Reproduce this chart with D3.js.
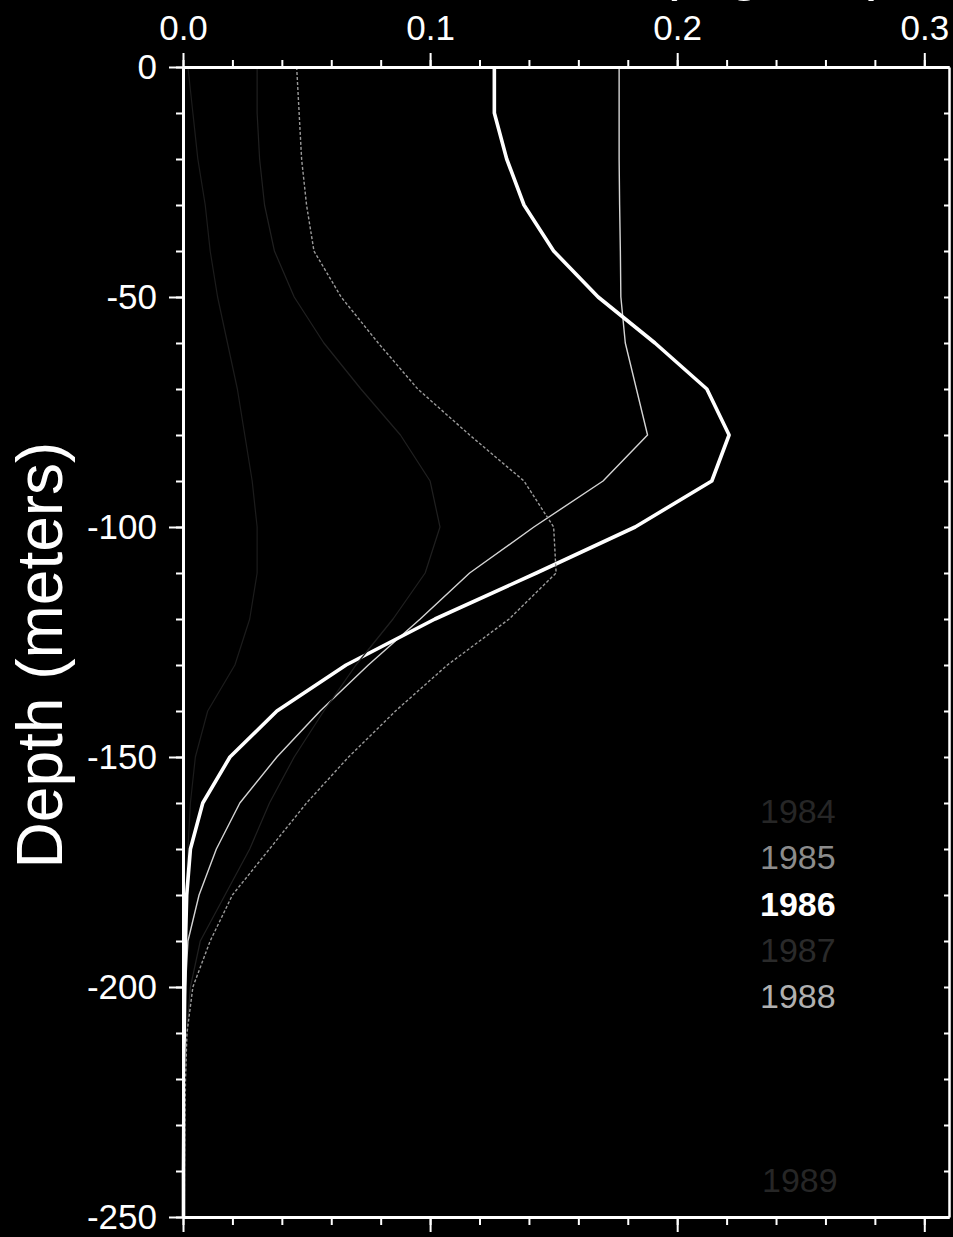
<!DOCTYPE html>
<html>
<head>
<meta charset="utf-8">
<script src="https://cdn.jsdelivr.net/npm/d3@7"></script>
<style>
  html, body { margin: 0; padding: 0; background: #000; }
  svg { display: block; }
  text { font-family: "Liberation Sans", Arial, Helvetica, sans-serif; }
</style>
</head>
<body>
<svg id="chart" width="953" height="1237"></svg>
<script>
// Sample depths (m), every 10 m from the surface down to 250 m
const depths = [0, -10, -20, -30, -40, -50, -60, -70, -80, -90, -100, -110, -120,
                -130, -140, -150, -160, -170, -180, -190, -200, -210, -220, -230, -240, -250];

// Mean chlorophyll profiles by year
const chl1984 = [0.002, 0.004, 0.006, 0.009, 0.011, 0.014, 0.018, 0.022, 0.025, 0.028, 0.030, 0.030, 0.027,
                 0.021, 0.010, 0.005, 0.003, 0.002, 0.001, 0.0008, 0.0006, 0.0005, 0.0004, 0.0003, 0.0003, 0.0002];
const chl1985 = [0.1765, 0.1765, 0.1765, 0.1767, 0.177, 0.1772, 0.179, 0.1835, 0.188, 0.170, 0.142, 0.116, 0.096,
                 0.075, 0.0555, 0.038, 0.023, 0.0135, 0.0065, 0.002, 0.001, 0.0007, 0.0005, 0.0004, 0.0003, 0.0003];
const chl1986 = [0.126, 0.126, 0.131, 0.138, 0.150, 0.168, 0.191, 0.212, 0.221, 0.214, 0.183, 0.143, 0.102,
                 0.066, 0.038, 0.019, 0.008, 0.003, 0.0015, 0.001, 0.0007, 0.0005, 0.0004, 0.0003, 0.0002, 0.0002];
const chl1987 = [0.030, 0.030, 0.031, 0.033, 0.037, 0.045, 0.057, 0.072, 0.088, 0.100, 0.104, 0.098, 0.085,
                 0.070, 0.057, 0.045, 0.035, 0.027, 0.017, 0.007, 0.003, 0.0015, 0.001, 0.0008, 0.0006, 0.0005];
const chl1988 = [0.046, 0.047, 0.048, 0.050, 0.053, 0.064, 0.079, 0.095, 0.116, 0.138, 0.150, 0.151, 0.132,
                 0.107, 0.086, 0.067, 0.050, 0.035, 0.020, 0.011, 0.004, 0.0016, 0.001, 0.0008, 0.0006, 0.0005];

const years = ["1984", "1985", "1986", "1987", "1988"];
const seriesValues = [chl1984, chl1985, chl1986, chl1987, chl1988];
const extraLabel = "1989";

// Axis ticks
const xMajorTicks = [0, 0.1, 0.2, 0.3];
const xMinorTicks = d3.range(0, 0.311, 0.02);
const yMajorTicks = [0, -50, -100, -150, -200, -250];
const yMinorTicks = d3.range(0, -251, -10);

// Per-series drawing styles
const lineStyle = {
  "1984": { stroke: "#1c1c1c", width: 1.2, dash: null,  label: "#262626", weight: "normal" },
  "1985": { stroke: "#d4d4d4", width: 1.4, dash: null,  label: "#8c8c8c", weight: "normal" },
  "1986": { stroke: "#ffffff", width: 3.6, dash: null,  label: "#ffffff", weight: "bold" },
  "1987": { stroke: "#202020", width: 1.2, dash: null,  label: "#2a2a2a", weight: "normal" },
  "1988": { stroke: "#9a9a9a", width: 1.4, dash: "3,2", label: "#b0b0b0", weight: "normal" }
};

const svg = d3.select("#chart");
svg.append("rect").attr("width", 953).attr("height", 1237).attr("fill", "#000");

const x = d3.scaleLinear().domain([0, 0.31]).range([183, 949]);
const y = d3.scaleLinear().domain([0, -250]).range([67, 1217]);

const FONT = 35;

// ---- profile lines
const line = d3.line()
  .x(d => x(d.v))
  .y(d => y(d.depth));

const plot = svg.append("g");
years.forEach((yr, i) => {
  const pts = depths.map((dp, k) => ({ depth: dp, v: seriesValues[i][k] }));
  const st = lineStyle[yr];
  plot.append("path")
    .datum(pts)
    .attr("d", line)
    .attr("fill", "none")
    .attr("stroke", st.stroke)
    .attr("stroke-width", st.width)
    .attr("stroke-linejoin", "round")
    .attr("stroke-dasharray", st.dash);
});

// ---- axes
function styleAxis(g, tickWidth) {
  g.selectAll(".domain").attr("stroke", "#fff").attr("stroke-width", 3);
  g.selectAll(".tick line").attr("stroke", "#fff").attr("stroke-width", tickWidth);
  g.selectAll(".tick text")
    .attr("fill", "#fff")
    .attr("font-size", FONT)
    .style("font-family", '"Liberation Sans", Arial, Helvetica, sans-serif');
}

// top axis: minor then major with labels
svg.append("g").attr("transform", `translate(0,${y(0)})`)
  .call(d3.axisTop(x).tickValues(xMinorTicks).tickSize(7).tickSizeOuter(0).tickFormat(""))
  .call(g => styleAxis(g, 2));
svg.append("g").attr("transform", `translate(0,${y(0)})`)
  .call(d3.axisTop(x).tickValues(xMajorTicks).tickSize(14).tickPadding(13).tickSizeOuter(0).tickFormat(d3.format(".1f")))
  .call(g => styleAxis(g, 2));

// bottom axis
svg.append("g").attr("transform", `translate(0,${y(-250)})`)
  .call(d3.axisBottom(x).tickValues(xMinorTicks).tickSize(8).tickSizeOuter(0).tickFormat(""))
  .call(g => styleAxis(g, 2));
svg.append("g").attr("transform", `translate(0,${y(-250)})`)
  .call(d3.axisBottom(x).tickValues(xMajorTicks).tickSize(15).tickSizeOuter(0).tickFormat(""))
  .call(g => styleAxis(g, 2));

// left axis (plain hyphen for negative depths)
svg.append("g").attr("transform", `translate(${x(0)},0)`)
  .call(d3.axisLeft(y).tickValues(yMinorTicks).tickSize(7).tickSizeOuter(0).tickFormat(""))
  .call(g => styleAxis(g, 2));
svg.append("g").attr("transform", `translate(${x(0)},0)`)
  .call(d3.axisLeft(y).tickValues(yMajorTicks).tickSize(14).tickPadding(12).tickSizeOuter(0).tickFormat(d => String(d)))
  .call(g => styleAxis(g, 2));

// right axis with inward ticks
svg.append("g").attr("transform", `translate(${x(0.31)},0)`)
  .call(d3.axisLeft(y).tickValues(yMinorTicks).tickSize(5).tickSizeOuter(0).tickFormat(""))
  .call(g => styleAxis(g, 2))
  .call(g => g.select(".domain").attr("stroke-width", 2.5));

// ---- axis titles
svg.append("text")
  .attr("transform", "translate(62,655) rotate(-90)")
  .attr("text-anchor", "middle")
  .attr("fill", "#fff")
  .attr("font-size", 64)
  .text("Depth (meters)");

// top title sits above the frame; only its descenders reach the page
svg.append("text")
  .attr("x", 501)
  .attr("y", -11)
  .attr("fill", "#fff")
  .attr("font-size", 60)
  .text("Chl a (mg m\u207B\u00B3)");

// ---- legend
const legend = svg.append("g");
years.forEach((yr, i) => {
  const st = lineStyle[yr];
  legend.append("text")
    .attr("x", 760)
    .attr("y", 823 + i * 46.3)
    .attr("fill", st.label)
    .attr("font-size", 34)
    .attr("font-weight", st.weight)
    .text(yr);
});
legend.append("text")
  .attr("x", 762)
  .attr("y", 1192)
  .attr("fill", "#262626")
  .attr("font-size", 34)
  .text(extraLabel);
</script>
</body>
</html>
